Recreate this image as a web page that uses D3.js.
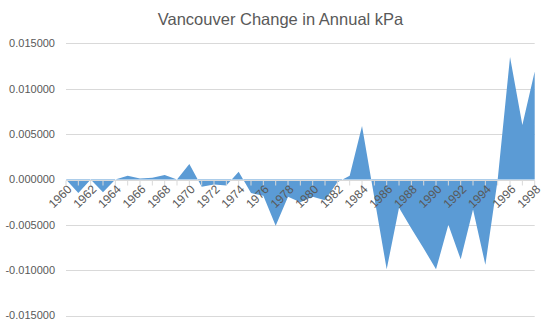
<!DOCTYPE html>
<html>
<head>
<meta charset="utf-8">
<script src="https://cdn.jsdelivr.net/npm/d3@7"></script>
<style>
  html, body { margin: 0; padding: 0; background: #fff; }
  svg { display: block; }
</style>
</head>
<body>
<svg id="chart" width="542" height="327"></svg>
<script>
const title = "Vancouver Change in Annual kPa";
const years = [1960,1961,1962,1963,1964,1965,1966,1967,1968,1969,
               1970,1971,1972,1973,1974,1975,1976,1977,1978,1979,
               1980,1981,1982,1983,1984,1985,1986,1987,1988,1989,
               1990,1991,1992,1993,1994,1995,1996,1997,1998];
const changes = [0, -0.0015, 0, -0.0014, 0, 0.0004, 0.0001, 0.0002, 0.0005, 0,
                 0.0017, -0.0008, -0.00055, -0.00065, 0.00085, -0.0015, -0.0018, -0.0051, -0.0019, -0.0025,
                 -0.0019, -0.0023, -0.0003, 0.0004, 0.0059, -0.002, -0.0099, -0.0031, -0.0054, -0.0076,
                 -0.0099, -0.005, -0.0088, -0.0033, -0.0094, 0, 0.0135, 0.006, 0.0119];
const yTicks = [-0.015, -0.01, -0.005, 0, 0.005, 0.01, 0.015];
const xLabelYears = years.filter(v => (v - 1960) % 2 === 0);

(function () {
const svg = d3.select("#chart");
const plotLeft = 66, plotRight = 534.7, plotTop = 43.4, plotBottom = 315.6;

const x = d3.scalePoint().domain(years).range([plotLeft, plotRight]);
const y = d3.scaleLinear().domain([-0.015, 0.015]).range([plotBottom, plotTop]);

// gridlines
svg.append("g").selectAll("line").data(yTicks).join("line")
  .attr("x1", plotLeft).attr("x2", plotRight)
  .attr("y1", d => Math.round(y(d)) + 0.5).attr("y2", d => Math.round(y(d)) + 0.5)
  .attr("stroke", "#d9d9d9").attr("stroke-width", 1);

// y labels
svg.append("g").selectAll("text").data(yTicks).join("text")
  .attr("x", 55).attr("y", d => y(d)).attr("dy", "0.35em")
  .attr("text-anchor", "end")
  .attr("font-family", "Liberation Sans, Arial, sans-serif")
  .attr("font-size", 11).attr("fill", "#595959")
  .text(d => d3.format(".6f")(d).replace("\u2212", "-"));

// area
const area = d3.area()
  .x((d, i) => x(years[i]))
  .y0(y(0))
  .y1(d => y(d));
svg.append("path").datum(changes)
  .attr("d", area)
  .attr("fill", "#5b9bd5");

// zero axis + ticks
const y0 = Math.round(y(0)) + 0.5;
svg.append("line").attr("x1", plotLeft).attr("x2", plotRight)
  .attr("y1", y0).attr("y2", y0).attr("stroke", "#d9d9d9");
svg.append("g").selectAll("line").data(years).join("line")
  .attr("x1", d => x(d)).attr("x2", d => x(d))
  .attr("y1", y0).attr("y2", y0 + 5)
  .attr("stroke", "#d9d9d9");

// x labels
svg.append("g").selectAll("text").data(xLabelYears).join("text")
  .attr("transform", d => `translate(${x(d) + 3.5},${y0 + 6.5}) rotate(-45)`)
  .attr("text-anchor", "end")
  .attr("dy", "0.35em")
  .attr("font-family", "Liberation Sans, Arial, sans-serif")
  .attr("font-size", 12).attr("fill", "#595959")
  .text(d => d);

// title
svg.append("text")
  .attr("x", 280.5).attr("y", 24.5)
  .attr("text-anchor", "middle")
  .attr("font-family", "Liberation Sans, Arial, sans-serif")
  .attr("font-size", 16.5).attr("fill", "#595959")
  .text(title);
})();
</script>
</body>
</html>
